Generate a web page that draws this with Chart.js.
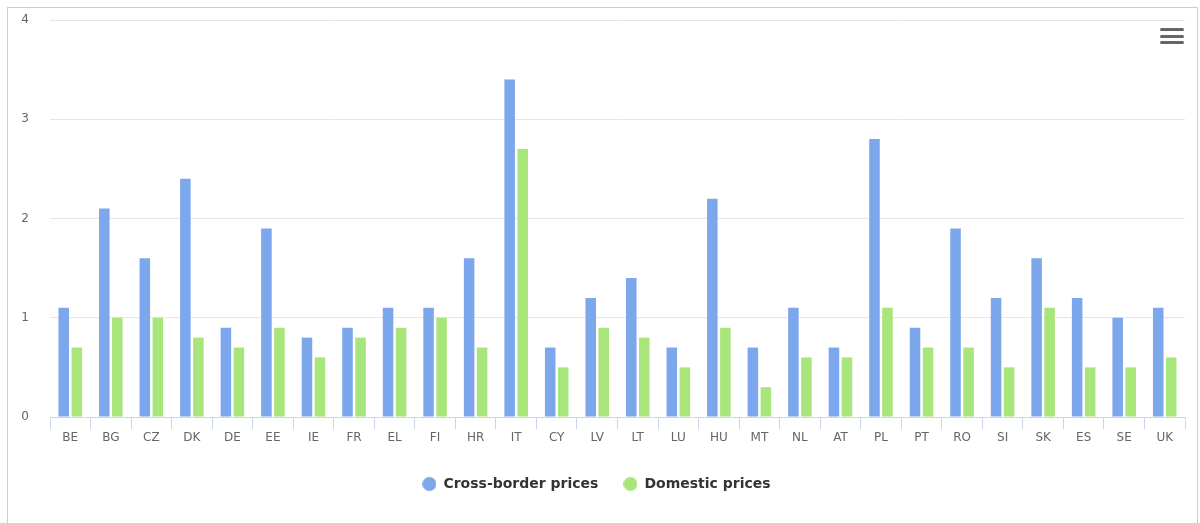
<!DOCTYPE html>
<html>
<head>
<meta charset="utf-8">
<script src="https://cdn.jsdelivr.net/npm/chart.js@4.4.1/dist/chart.umd.min.js"></script>
<style>
  html, body { margin: 0; padding: 0; background: #fff; overflow: hidden; }
  .box {
    position: absolute;
    left: 7px;
    top: 7px;
    width: 1189px;
    height: 520px;
    border: 1px solid #cccccc;
  }
  canvas { display: block; }
</style>
</head>
<body>
<div class="box">
  <canvas id="myChart" width="1189" height="515"></canvas>
</div>
<script>
const ctx = document.getElementById('myChart');

// Country codes along the x axis.
const countries = ['BE', 'BG', 'CZ', 'DK', 'DE', 'EE', 'IE', 'FR', 'EL', 'FI',
  'HR', 'IT', 'CY', 'LV', 'LT', 'LU', 'HU', 'MT', 'NL', 'AT', 'PL', 'PT', 'RO',
  'SI', 'SK', 'ES', 'SE', 'UK'];

// Values.
const crossBorder = [1.1, 2.1, 1.6, 2.4, 0.9, 1.9, 0.8, 0.9, 1.1, 1.1, 1.6, 3.4,
  0.7, 1.2, 1.4, 0.7, 2.2, 0.7, 1.1, 0.7, 2.8, 0.9, 1.9, 1.2, 1.6, 1.2, 1.0, 1.1];
const domestic = [0.7, 1.0, 1.0, 0.8, 0.7, 0.9, 0.6, 0.8, 0.9, 1.0, 0.7, 2.7,
  0.5, 0.9, 0.8, 0.5, 0.9, 0.3, 0.6, 0.6, 1.1, 0.7, 0.7, 0.5, 1.1, 0.5, 0.5, 0.6];

const yTicks = [0, 1, 2, 3, 4];

const blue = '#7ca7ec';
const green = '#a8e57b';

// Round legend dots, drawn once onto small canvases.
const makeDot = (color) => {
  const c = document.createElement('canvas');
  c.width = 14;
  c.height = 14;
  const g = c.getContext('2d');
  g.fillStyle = color;
  g.beginPath();
  g.arc(7, 7, 7, 0, Math.PI * 2);
  g.fill();
  return c;
};
const dots = [makeDot(blue), makeDot(green)];

// The little menu icon in the top right corner.
const menuIcon = {
  id: 'menuIcon',
  afterDraw(chart) {
    const g = chart.ctx;
    g.save();
    g.strokeStyle = '#666666';
    g.lineWidth = 3;
    g.lineCap = 'round';
    [21, 28, 34].forEach((y) => {
      g.beginPath();
      g.moveTo(1153.5, y + 0.5);
      g.lineTo(1174.5, y + 0.5);
      g.stroke();
    });
    g.restore();
  },
};

const myChart = new Chart(ctx, {
  type: 'bar',
  data: {
    labels: countries,
    datasets: [
      {
        label: 'Cross-border prices',
        data: crossBorder,
        backgroundColor: blue,
        categoryPercentage: 0.642,
        barPercentage: 0.81,
      },
      {
        label: 'Domestic prices',
        data: domestic,
        backgroundColor: green,
        categoryPercentage: 0.642,
        barPercentage: 0.81,
      },
    ],
  },
  plugins: [menuIcon],
  options: {
    responsive: false,
    animation: false,
    devicePixelRatio: 1,
    layout: {
      padding: { top: 12, right: 12, bottom: 22, left: 0 },
    },
    plugins: {
      tooltip: { enabled: false },
      legend: {
        position: 'bottom',
        labels: {
          usePointStyle: true,
          boxWidth: 22,
          boxHeight: 14,
          padding: 25,
          color: '#333333',
          font: { family: 'DejaVu Sans', size: 14, weight: 'bold' },
          generateLabels: (chart) => {
            const items = Chart.defaults.plugins.legend.labels.generateLabels(chart);
            items.forEach((item, i) => {
              item.pointStyle = dots[i];
            });
            return items;
          },
        },
      },
    },
    scales: {
      x: {
        grid: {
          drawOnChartArea: false,
          drawTicks: true,
          tickLength: 12,
          color: '#ccd6eb',
        },
        border: { color: '#ccd6eb' },
        ticks: {
          padding: 2,
          color: '#666666',
          font: { family: 'DejaVu Sans', size: 12 },
          maxRotation: 0,
          autoSkip: false,
        },
        afterFit: (scale) => {
          scale.height = 35;
        },
      },
      y: {
        min: yTicks[0],
        max: yTicks[yTicks.length - 1],
        afterBuildTicks: (scale) => {
          scale.ticks = yTicks.map((v) => ({ value: v }));
        },
        grid: {
          color: '#e6e6e6',
          drawTicks: false,
        },
        border: { display: false },
        ticks: {
          padding: 21,
          color: '#666666',
          font: { family: 'DejaVu Sans', size: 12 },
        },
        // the tick padding would otherwise be added above and below the axis
        afterFit: (scale) => {
          scale.width = 42;
          scale.paddingTop = 7;
          scale.paddingBottom = 7;
        },
      },
    },
  },
});
</script>
</body>
</html>
